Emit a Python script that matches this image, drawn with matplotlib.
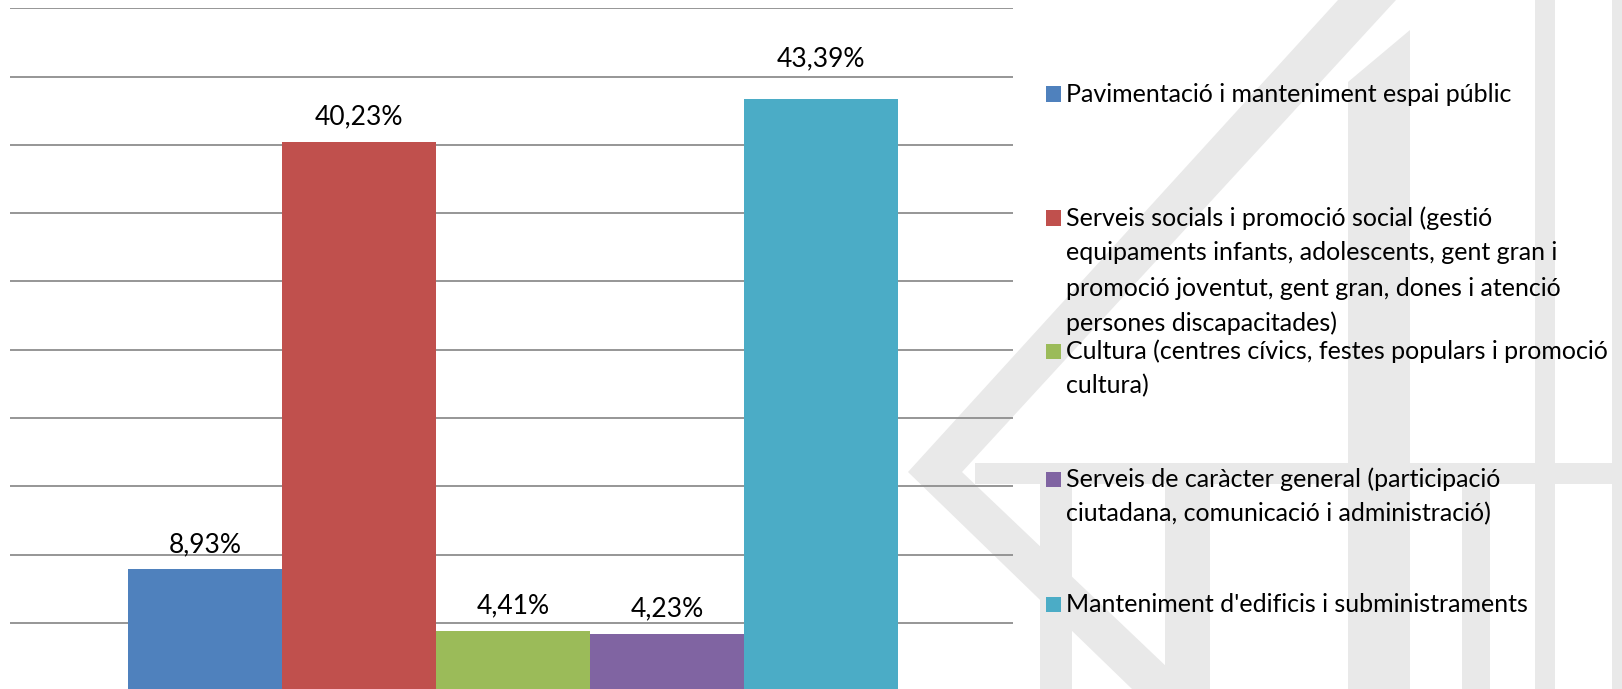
import matplotlib.pyplot as plt
from matplotlib.patches import Polygon, Rectangle

categories = [
    "Pavimentació i manteniment espai públic",
    "Serveis socials i promoció social (gestió\nequipaments infants, adolescents, gent gran i\npromoció joventut, gent gran, dones i atenció\npersones discapacitades)",
    "Cultura (centres cívics, festes populars i promoció\ncultura)",
    "Serveis de caràcter general (participació\nciutadana, comunicació i administració)",
    "Manteniment d'edificis i subministraments",
]
values = [8.93, 40.23, 4.41, 4.23, 43.39]
value_labels = ["8,93%", "40,23%", "4,41%", "4,23%", "43,39%"]
colors = ["#4f81bd", "#c0504d", "#9bbb59", "#8064a2", "#4bacc6"]

plt.rcParams['font.family'] = ['Lato', 'DejaVu Sans']

W, H = 1622, 689
fig = plt.figure(figsize=(W / 100, H / 100), dpi=100)
fig.patch.set_facecolor('white')


def fx(x):
    return x / W


def fy(y):
    return 1 - y / H


# faint logo watermark in the background (pixel coords, y down)
wm = '#e9e9e9'
shapes = [
    # chevron
    [(1338, 0), (1396, 0), (962, 472), (1190, 689), (1132, 689), (908, 472)],
    # horizontal band
    [(975, 463), (1622, 463), (1622, 484), (975, 484)],
    # upper vertical bar with slanted top
    [(1348, 82), (1410, 30), (1410, 463), (1348, 463)],
    [(1535, 0), (1555, 0), (1555, 689), (1535, 689)],
    [(1612, 0), (1622, 0), (1622, 689), (1612, 689)],
    # lower columns
    [(1040, 484), (1072, 484), (1072, 689), (1040, 689)],
    [(1165, 484), (1210, 484), (1210, 689), (1165, 689)],
    [(1348, 484), (1410, 484), (1410, 689), (1348, 689)],
    [(1462, 484), (1490, 484), (1490, 689), (1462, 689)],
]
for pts in shapes:
    fig.add_artist(Polygon([(fx(x), fy(y)) for x, y in pts], closed=True,
                           facecolor=wm, edgecolor='none',
                           transform=fig.transFigure, zorder=-5))

ax = fig.add_axes([fx(10), fy(691.3), fx(1013) - fx(10), fy(8.3) - fy(691.3)])
ax.patch.set_alpha(0)

x = list(range(len(values)))
bars = ax.bar(x, values, width=1.0, color=colors, zorder=3)

# the label of the tallest bar sits a little higher in the original
for i, (b, lab) in enumerate(zip(bars, value_labels)):
    off = 20 if i == 4 else 9
    ax.annotate(lab, (b.get_x() + b.get_width() / 2, b.get_height()),
                xytext=(0, off), textcoords='offset points',
                ha='center', va='bottom', fontsize=19, color='black')

ax.set_xlim(-1.266, 5.247)
ax.set_ylim(0, 50)
ax.set_yticks(range(0, 51, 5))
ax.yaxis.grid(True, color='#8e8e8e', linewidth=1.3)
ax.set_axisbelow(True)
ax.tick_params(left=False, bottom=False, labelleft=False, labelbottom=False)
for s in ax.spines.values():
    s.set_visible(False)

# legend, laid out like the original (first-line centres in pixels)
row_y = [94, 218, 351, 479, 604]
line_gap = 35
for lab, c, y0 in zip(categories, colors, row_y):
    fig.add_artist(Rectangle((fx(1046), fy(y0 + 7.5)), fx(15), 15 / H,
                             facecolor=c, edgecolor='none',
                             transform=fig.transFigure))
    for k, line in enumerate(lab.split('\n')):
        fig.text(fx(1066), fy(y0 + k * line_gap), line, ha='left',
                 va='center', fontsize=18, color='black')

fig.savefig('out.png', dpi=100)
